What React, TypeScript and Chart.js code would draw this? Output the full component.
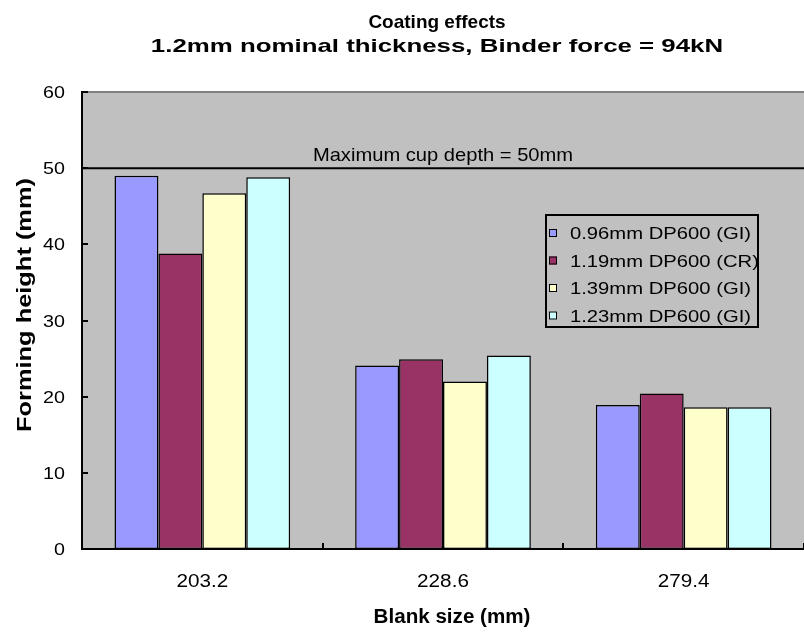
import React, { useEffect, useRef } from "react";
import { Chart, registerables } from "chart.js";

Chart.register(...registerables);

const categories = ["203.2", "228.6", "279.4"];
const seriesLabels = [
  "0.96mm DP600 (GI)",
  "1.19mm DP600 (CR)",
  "1.39mm DP600 (GI)",
  "1.23mm DP600 (GI)",
];
const series096GI = [49.0, 24.1, 18.9];
const series119CR = [38.8, 24.9, 20.4];
const series139GI = [46.7, 22.0, 18.6];
const series123GI = [48.8, 25.4, 18.6];
const seriesColors = ["#9999FF", "#993366", "#FFFFCC", "#CCFFFF"];
const yTicks = [0, 10, 20, 30, 40, 50, 60];
const maxDepth = 50;
const maxDepthLabel = "Maximum cup depth = 50mm";
const titleLines = ["Coating effects", "1.2mm nominal thickness, Binder force = 94kN"];
const xTitle = "Blank size (mm)";
const yTitle = "Forming height (mm)";

const FONT = '"Liberation Sans", Arial, sans-serif';

function drawText(
  ctx: CanvasRenderingContext2D,
  s: string,
  x: number,
  y: number,
  size: number,
  bold: boolean,
  sx: number,
  align: CanvasTextAlign,
  rotate = false
) {
  ctx.save();
  ctx.translate(x, y);
  if (rotate) ctx.rotate(-Math.PI / 2);
  ctx.scale(sx, 1);
  ctx.font = `${bold ? "bold " : ""}${size}px ${FONT}`;
  ctx.fillStyle = "#000";
  ctx.textAlign = align;
  ctx.textBaseline = "alphabetic";
  ctx.fillText(s, 0, 0);
  ctx.restore();
}

const decorPlugin = {
  id: "decor",
  beforeDraw(chart: any) {
    const { ctx, chartArea: a } = chart;
    ctx.save();
    ctx.fillStyle = "#FFFFFF";
    ctx.fillRect(0, 0, chart.width, chart.height);
    ctx.fillStyle = "#C0C0C0";
    ctx.fillRect(a.left, a.top, a.right - a.left, a.bottom - a.top);
    ctx.strokeStyle = "#808080";
    ctx.lineWidth = 2;
    ctx.beginPath();
    ctx.moveTo(a.left, a.top);
    ctx.lineTo(a.right, a.top);
    ctx.stroke();
    ctx.restore();
  },
  afterDraw(chart: any) {
    const { ctx, chartArea: a } = chart;
    const xs = chart.scales.x;
    const ys = chart.scales.y;
    ctx.save();
    // max depth line
    const yl = ys.getPixelForValue(maxDepth);
    ctx.strokeStyle = "#000";
    ctx.lineWidth = 2;
    ctx.beginPath();
    ctx.moveTo(a.left, yl);
    ctx.lineTo(a.right, yl);
    ctx.stroke();
    drawText(ctx, maxDepthLabel, (a.left + a.right) / 2, yl - 7, 19, false, 1.06, "center");

    // inside tick marks
    ctx.lineWidth = 2;
    ctx.beginPath();
    yTicks.forEach((v) => {
      const p = Math.round(ys.getPixelForValue(v));
      ctx.moveTo(a.left, p);
      ctx.lineTo(a.left + 6, p);
    });
    for (let i = 0; i <= categories.length; i++) {
      const p = Math.round(xs.getPixelForValue(i - 0.5));
      ctx.moveTo(p, a.bottom);
      ctx.lineTo(p, a.bottom - 6);
    }
    ctx.stroke();

    // y tick labels
    yTicks.forEach((v) => {
      const p = ys.getPixelForValue(v);
      drawText(ctx, String(v), a.left - 17, p + 6, 16, false, 1.23, "right");
    });
    // x tick labels
    categories.forEach((c, i) => {
      const p = xs.getPixelForValue(i);
      drawText(ctx, c, p, a.bottom + 38, 18, false, 1.15, "center");
    });
    // axis titles
    drawText(ctx, xTitle, 452, 623, 20, true, 1.03, "center");
    drawText(ctx, yTitle, 31, 305, 20, true, 1.27, "center", true);
    // chart title
    drawText(ctx, titleLines[0], 437, 28, 19, true, 1.0, "center");
    drawText(ctx, titleLines[1], 437, 52, 19, true, 1.36, "center");

    // legend
    const lx = 546, ly = 215, lw = 212, lh = 112;
    ctx.strokeStyle = "#000";
    ctx.lineWidth = 2;
    ctx.strokeRect(lx, ly, lw, lh);
    chart.data.datasets.forEach((ds: any, i: number) => {
      const cy = 233 + i * 27.5;
      ctx.fillStyle = ds.backgroundColor;
      ctx.fillRect(549, cy - 4, 8, 8);
      ctx.lineWidth = 1;
      ctx.strokeStyle = "#000";
      ctx.strokeRect(549.5, cy - 3.5, 7, 7);
      drawText(ctx, ds.label, 570, cy + 6, 17, false, 1.19, "left");
    });
    ctx.restore();
  },
};

export default function App() {
  const ref = useRef<HTMLCanvasElement | null>(null);
  useEffect(() => {
    document.body.style.margin = "0";
    const canvas = ref.current!;
    const allSeries = [series096GI, series119CR, series139GI, series123GI];
    const chart = new Chart(canvas, {
      type: "bar",
      data: {
        labels: categories,
        datasets: allSeries.map((d, i) => ({
          label: seriesLabels[i],
          data: d,
          backgroundColor: seriesColors[i],
          borderColor: "#000",
          borderWidth: 1.5,
          borderSkipped: false,
          categoryPercentage: 0.73,
          barPercentage: 1.0,
        })),
      },
      options: {
        responsive: false,
        animation: false,
        devicePixelRatio: 1,
        layout: { padding: { top: 92, left: 0, right: 0, bottom: 0 } },
        plugins: {
          legend: { display: false },
          title: { display: false },
          tooltip: { enabled: false },
        },
        scales: {
          x: {
            type: "category",
            grid: { display: false },
            ticks: { display: false },
            border: { display: true, color: "#000", width: 2 },
            afterFit: (s: any) => {
              s.height = 83;
            },
          },
          y: {
            min: 0,
            max: 60,
            ticks: { display: false, stepSize: 10 },
            grid: { display: false },
            border: { display: true, color: "#000", width: 2 },
            afterFit: (s: any) => {
              s.width = 82;
            },
          },
        },
      },
      plugins: [decorPlugin],
    });
    return () => chart.destroy();
  }, []);
  return (
    <div style={{ width: 804, height: 632 }}>
      <canvas ref={ref} width={804} height={632} style={{ display: "block" }} />
    </div>
  );
}
